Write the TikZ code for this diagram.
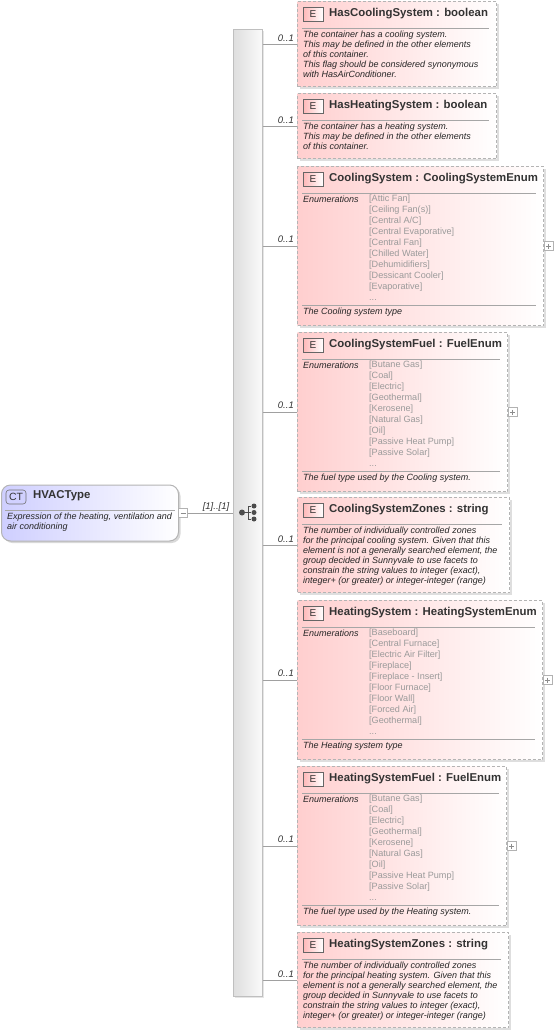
\documentclass[tikz,border=0pt]{standalone}
\usepackage{fontspec}
\setmainfont{Liberation Sans}
\usetikzlibrary{shadows,calc}
\definecolor{edge}{HTML}{B4B4B4}
\definecolor{ink}{HTML}{333333}
\definecolor{wire}{HTML}{A0A0A0}
\definecolor{enumtxt}{HTML}{9A9A9A}
\tikzset{
  x=1pt,y=-1pt,
  ebox/.style={draw=edge,dashed,dash pattern=on 3pt off 2pt,line width=1pt,left color=red!19,right color=white,anchor=north west,inner sep=0pt,
    general shadow={fill=black!13,shadow xshift=2pt,shadow yshift=-2pt}},
  etag/.style={draw=black!60,line width=.6pt,left color=red!28,right color=white,minimum width=20pt,minimum height=14pt,inner sep=0pt,font=\fontsize{10}{10}\selectfont,text=ink},
  etitle/.style={anchor=west,inner sep=0pt,font=\fontsize{11.4}{11}\bfseries\selectfont,text=ink},
  rule/.style={draw=black!35,line width=.7pt},
  desc/.style={anchor=north west,inner sep=0pt,align=left,font=\fontsize{9}{10}\itshape\selectfont,text=black!85},
  enumtitle/.style={anchor=north west,inner sep=0pt,font=\fontsize{9}{11}\itshape\selectfont,text=black!85},
  enumvals/.style={anchor=north west,inner sep=0pt,align=left,font=\fontsize{9.1}{11}\selectfont,text=enumtxt},
  occ/.style={inner sep=0pt,font=\fontsize{9.5}{10}\itshape\selectfont,text=black!80},
  wirel/.style={draw=wire,line width=.8pt},
  plusbox/.style={draw=black!30,fill=white,line width=.6pt,minimum size=9pt,inner sep=0pt},
  dot/.style={circle,fill=black!70,draw=none,minimum size=6pt,inner sep=0pt},
  dotb/.style={circle,fill=black!70,draw=none,minimum size=5pt,inner sep=0pt},
}
% #1 name, #2 left x, #3 top y, #4 width, #5 height, #6 title
\newcommand{\elembox}[6]{%
  \node[ebox,minimum width=#4pt-1pt,minimum height=#5pt-1pt] (#1) at (#2,#3) {};
  \node[etag] (#1tag) at ($(#2,#3)+(16,13)$) {E};
  \node[etitle] (#1title) at ($(#2,#3)+(32,12.5)$) {#6};
  \draw[rule] ($(#2,#3)+(5,27)$) -- ($(#2,#3)+(#4,27)+(-8,0)$);
}
\begin{document}
\begin{tikzpicture}
\useasboundingbox (0,0) rectangle (554,1034);
\fill[white] (0,0) rectangle (554,1034);
% trunk
\node[draw=black!25,line width=1.4pt,left color=black!13,right color=black!2,anchor=north west,minimum width=29pt,minimum height=967pt,inner sep=0pt,general shadow={fill=black!10,shadow xshift=2pt,shadow yshift=-2pt}] (trunk) at (232.5,28.5) {};
% complex type
\node[draw=edge,line width=1pt,rounded corners=9pt,left color=blue!19,right color=white,anchor=north west,minimum width=177pt,minimum height=56pt,inner sep=0pt,general shadow={fill=black!15,shadow xshift=2pt,shadow yshift=-2pt}] (ct) at (1,484.5) {};
\node[draw=black!55,line width=.6pt,rounded corners=3pt,fill=blue!18,minimum width=20pt,minimum height=14pt,inner sep=0pt,font=\fontsize{10.5}{10}\selectfont,text=ink] (cttag) at (16,497) {CT};
\node[etitle] (cttitle) at (33,496) {HVACType};
\draw[rule] (5,510) -- (175,510);
\node[desc] (ctdesc) at (7,513) {Expression of the heating, ventilation and\\air conditioning};
\node[plusbox] (ctminus) at (183,513) {};
\draw[black!45,line width=.5pt] ($(ctminus)+(-2.5,0)$) -- ($(ctminus)+(2.5,0)$);
\draw[wirel] (ctminus.east) -- (ctminus.east -| trunk.west);
\node[occ] (ctocc) at (216,507) {[1]..[1]};
% sequence icon
\node[dot] (sq) at (242,512.5) {};
\node[dotb] (sq1) at (254,506) {};
\node[dotb] (sq2) at (254,512.5) {};
\node[dotb] (sq3) at (254,519) {};
\coordinate (sqm) at (248,512.5);
\draw[black!70,line width=1pt] (sq) -- (sq2) (sqm |- sq1) -- (sqm |- sq3) (sqm |- sq1) -- (sq1) (sqm |- sq3) -- (sq3);
% elements
\elembox{ea}{297}{1}{200}{86}{HasCoolingSystem  : boolean}
\node[desc] (eadesc) at (303,30.5) {The container has a cooling system.\\This may be defined in the other elements\\of this container.\\This flag should be considered synonymous\\with HasAirConditioner.};
\elembox{eb}{297}{93}{200}{66}{HasHeatingSystem  : boolean}
\node[desc] (ebdesc) at (303,122.5) {The container has a heating system.\\This may be defined in the other elements\\of this container.};
\elembox{ec}{297}{166}{247}{160}{CoolingSystem  : CoolingSystemEnum}
\node[enumtitle] (ecet) at (303,195.5) {Enumerations};
\node[enumvals] (ecev) at (369,195) {{[Attic Fan]}\\{[Ceiling Fan(s)]}\\{[Central A/C]}\\{[Central Evaporative]}\\{[Central Fan]}\\{[Chilled Water]}\\{[Dehumidifiers]}\\{[Dessicant Cooler]}\\{[Evaporative]}\\...};
\draw[rule] (302,305) -- (536,305);
\node[desc] (ecdesc) at (303,308) {The Cooling system type};
\elembox{ed}{297}{332}{211}{160}{CoolingSystemFuel  : FuelEnum}
\node[enumtitle] (edet) at (303,361.5) {Enumerations};
\node[enumvals] (edev) at (369,361) {{[Butane Gas]}\\{[Coal]}\\{[Electric]}\\{[Geothermal]}\\{[Kerosene]}\\{[Natural Gas]}\\{[Oil]}\\{[Passive Heat Pump]}\\{[Passive Solar]}\\...};
\draw[rule] (302,471) -- (500,471);
\node[desc] (eddesc) at (303,474) {The fuel type used by the Cooling system.};
\elembox{ee}{297}{497}{213}{96}{CoolingSystemZones  : string}
\node[desc] (eedesc) at (303,526.5) {The number of individually controlled zones\\for the principal cooling system. Given that this\\element is not a generally searched element, the\\group decided in Sunnyvale to use facets to\\constrain the string values to integer (exact),\\integer+ (or greater) or integer-integer (range)};
\elembox{ef}{297}{600}{246}{160}{HeatingSystem  : HeatingSystemEnum}
\node[enumtitle] (efet) at (303,629.5) {Enumerations};
\node[enumvals] (efev) at (369,629) {{[Baseboard]}\\{[Central Furnace]}\\{[Electric Air Filter]}\\{[Fireplace]}\\{[Fireplace - Insert]}\\{[Floor Furnace]}\\{[Floor Wall]}\\{[Forced Air]}\\{[Geothermal]}\\...};
\draw[rule] (302,739) -- (535,739);
\node[desc] (efdesc) at (303,742) {The Heating system type};
\elembox{eg}{297}{766}{210}{160}{HeatingSystemFuel  : FuelEnum}
\node[enumtitle] (eget) at (303,795.5) {Enumerations};
\node[enumvals] (egev) at (369,795) {{[Butane Gas]}\\{[Coal]}\\{[Electric]}\\{[Geothermal]}\\{[Kerosene]}\\{[Natural Gas]}\\{[Oil]}\\{[Passive Heat Pump]}\\{[Passive Solar]}\\...};
\draw[rule] (302,905) -- (499,905);
\node[desc] (egdesc) at (303,908) {The fuel type used by the Heating system.};
\elembox{eh}{297}{932}{212}{96}{HeatingSystemZones  : string}
\node[desc] (ehdesc) at (303,961.5) {The number of individually controlled zones\\for the principal heating system. Given that this\\element is not a generally searched element, the\\group decided in Sunnyvale to use facets to\\constrain the string values to integer (exact),\\integer+ (or greater) or integer-integer (range)};
% connectors and occurrences
\foreach \n/\ly in {ea/38,eb/120,ec/239,ed/405,ee/539,ef/673,eg/839,eh/974}{
  \draw[wirel] (trunk.east |- \n.west) -- (\n.west);
  \node[occ,anchor=east] (\n occ) at (294,\ly) {0..1};
}
% expand boxes
\foreach \n in {ec,ed,ef,eg}{
  \node[plusbox,anchor=west] (\n plus) at ($(\n.east)+(-0.5,0)$) {};
  \draw[black!45,line width=.5pt] ($(\n plus)+(-2.5,0)$) -- ($(\n plus)+(2.5,0)$) ($(\n plus)+(0,-2.5)$) -- ($(\n plus)+(0,2.5)$);
}
\end{tikzpicture}
\end{document}
